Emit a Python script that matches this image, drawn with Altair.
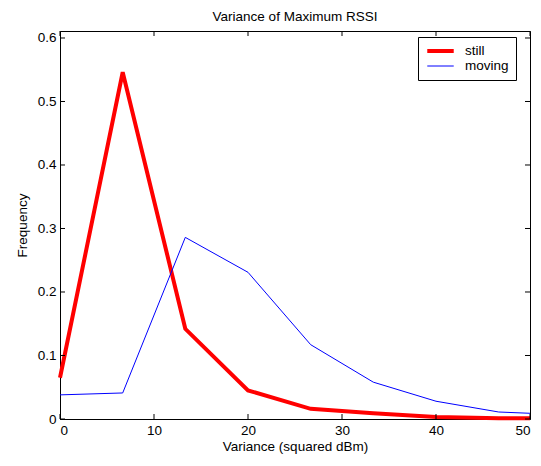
import altair as alt
import pandas as pd

variance = [0, 6.67, 13.33, 20, 26.67, 33.33, 40, 46.67, 50]
still = [0.065, 0.546, 0.142, 0.045, 0.016, 0.009, 0.003, 0.001, 0.001]
moving = [0.038, 0.041, 0.286, 0.231, 0.117, 0.058, 0.028, 0.011, 0.009]
series = ["still", "moving"]
x_ticks = [0, 10, 20, 30, 40, 50]
y_ticks = [0, 0.1, 0.2, 0.3, 0.4, 0.5, 0.6]

rows = []
for name, vals in zip(series, [still, moving]):
    for xv, yv in zip(variance, vals):
        rows.append({"Variance": xv, "Frequency": yv, "Series": name})
df = pd.DataFrame(rows)

W, H = 470, 388
FONT = "Liberation Sans"
FS = 13.5
xscale = alt.Scale(domain=[0, 50], nice=False, zero=False)
yscale = alt.Scale(domain=[0, 0.611], nice=False)

lines = alt.Chart(df).mark_line().encode(
    x=alt.X("Variance:Q", scale=xscale, title="Variance (squared dBm)",
            axis=alt.Axis(values=x_ticks, tickSize=0, labelPadding=4, grid=False,
                          domainColor="black", labelColor="black", titleColor="black",
                          labelFontSize=FS, titleFontSize=FS, titleFontWeight="normal",
                          labelFont=FONT, titleFont=FONT, titlePadding=3)),
    y=alt.Y("Frequency:Q", scale=yscale, title="Frequency",
            axis=alt.Axis(values=y_ticks, tickSize=0, labelPadding=4, grid=False,
                          domainColor="black", labelColor="black", titleColor="black",
                          labelFontSize=FS, titleFontSize=FS, titleFontWeight="normal",
                          labelFont=FONT, titleFont=FONT, titlePadding=8,
                          labelExpr="datum.value == 0 ? '0' : format(datum.value, '.1f')")),
    color=alt.Color("Series:N", sort=series,
                    scale=alt.Scale(domain=series, range=["#ff0000", "#0000ff"]),
                    legend=alt.Legend(title=None, orient="none", legendX=358, legendY=6,
                                      strokeColor="black", fillColor="white", padding=7,
                                      symbolType="stroke", symbolSize=700, clipHeight=14,
                                      labelFont=FONT, labelFontSize=FS, labelColor="black",
                                      rowPadding=1, labelOffset=9)),
    strokeWidth=alt.StrokeWidth("Series:N", sort=series,
                                scale=alt.Scale(domain=series, range=[4, 1]),
                                legend=None),
    order=alt.Order("Variance:Q"),
)

xt = pd.DataFrame({"Variance": x_ticks})
yt = pd.DataFrame({"Frequency": y_ticks})
tb = alt.Chart(xt).mark_rule(color="black", strokeWidth=1).encode(
    x=alt.X("Variance:Q", scale=xscale), y=alt.value(H), y2=alt.value(H - 5))
tt = alt.Chart(xt).mark_rule(color="black", strokeWidth=1).encode(
    x=alt.X("Variance:Q", scale=xscale), y=alt.value(0), y2=alt.value(5))
tl = alt.Chart(yt).mark_rule(color="black", strokeWidth=1).encode(
    y=alt.Y("Frequency:Q", scale=yscale), x=alt.value(0), x2=alt.value(5))
tr = alt.Chart(yt).mark_rule(color="black", strokeWidth=1).encode(
    y=alt.Y("Frequency:Q", scale=yscale), x=alt.value(W), x2=alt.value(W - 5))

chart = alt.layer(lines, tb, tt, tl, tr).properties(
    width=W, height=H,
    background="white",
    title=alt.Title("Variance of Maximum RSSI", font=FONT, fontSize=FS,
                    fontWeight="normal", color="black", offset=7),
    autosize=alt.AutoSizeParams(type="none"),
    padding={"left": 52, "top": 23, "right": 2, "bottom": 39},
).configure_view(stroke="black", strokeWidth=1)

chart.save("out.html", embed_options={"renderer": "svg", "actions": False})
